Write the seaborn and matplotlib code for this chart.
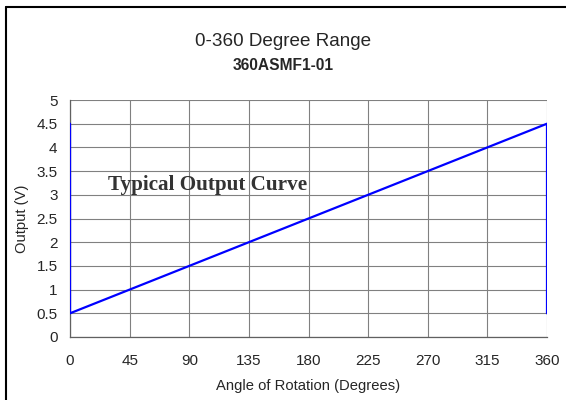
import matplotlib.pyplot as plt
import seaborn as sns
import pandas as pd
from matplotlib.lines import Line2D

# 曲线数据（角度 -> 输出电压）
angle = [0, 0, 360, 360]
output = [4.5, 0.5, 4.5, 0.5]
x_ticks = [0, 45, 90, 135, 180, 225, 270, 315, 360]
y_ticks = [0, 0.5, 1, 1.5, 2, 2.5, 3, 3.5, 4, 4.5, 5]

sns.set_style("white")
plt.rcParams['font.family'] = ['Liberation Sans', 'DejaVu Sans']

df = pd.DataFrame({'angle': angle, 'output': output})

fig = plt.figure(figsize=(5.66, 4.0), dpi=100)
ax = fig.add_axes([70 / 566, 1 - 337 / 400, 477 / 566, 237 / 400])

sns.lineplot(data=df, x='angle', y='output', sort=False, estimator=None,
             color='#0000FF', linewidth=1.6, ax=ax, zorder=3)

ax.set_xlim(0, 360)
ax.set_ylim(0, 5)
ax.set_xticks(x_ticks)
ax.set_yticks(y_ticks)
ax.set_xticklabels([str(t) for t in x_ticks], fontsize=11)
ax.set_yticklabels([f'{t:g}' for t in y_ticks], fontsize=11)
ax.grid(True, color='#808080', linewidth=0.8)
ax.tick_params(axis='y', direction='out', length=4, width=0.8,
               color='#808080', pad=5)
ax.tick_params(axis='x', direction='out', length=4, width=0.8,
               color='#808080', pad=8)

for side in ['top', 'right']:
    ax.spines[side].set_visible(False)
for side in ['left', 'bottom']:
    ax.spines[side].set_color('#606060')
    ax.spines[side].set_linewidth(0.9)

ax.set_xlabel('Angle of Rotation (Degrees)', fontsize=10.6, labelpad=8)
ax.set_ylabel('Output (V)', fontsize=10.6, labelpad=5)

ax.text(28.5, 3.2, 'Typical Output Curve', fontsize=15.2, fontweight='bold',
        family='Liberation Serif', color='#333333', va='center', zorder=4)

fig.text(0.5, 1 - 42 / 400, '0-360 Degree Range', ha='center', va='center', fontsize=13.6)
fig.text(0.5, 1 - 66 / 400, '360ASMF1-01', ha='center', va='center', fontsize=11.2,
         fontweight='bold')

# 外框（左、上）
fig.add_artist(Line2D([6 / 566, 6 / 566], [0, 1 - 7 / 400], color='black',
                      linewidth=1.5, transform=fig.transFigure))
fig.add_artist(Line2D([6 / 566, 1], [1 - 7 / 400, 1 - 7 / 400], color='black',
                      linewidth=1.5, transform=fig.transFigure))

fig.savefig('out.png', dpi=100)
